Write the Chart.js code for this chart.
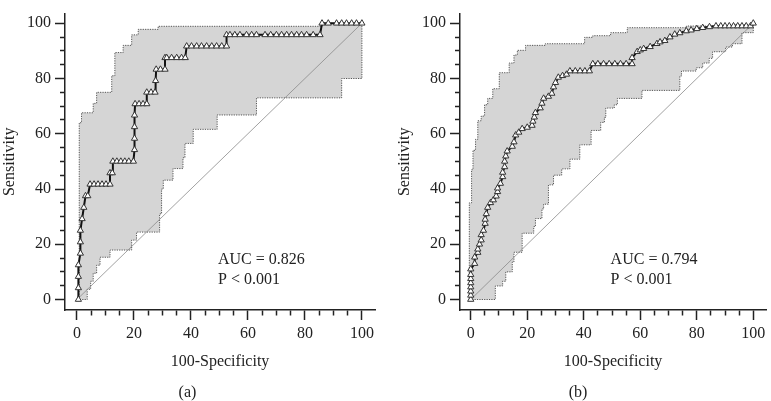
<!DOCTYPE html>
<html>
<head>
<meta charset="utf-8">
<script src="https://cdn.jsdelivr.net/npm/chart.js@4.4.0/dist/chart.umd.min.js"></script>
<style>
  html, body { margin: 0; padding: 0; background: #fff; }
  .panel { position: absolute; top: 0; height: 401px; }
</style>
</head>
<body>
<div class="panel" style="left:0;width:385px"><canvas id="rocA" width="385" height="401"></canvas></div>
<div class="panel" style="left:385px;width:386px"><canvas id="rocB" width="386" height="401"></canvas></div>
<script>
// ROC points [100-Specificity, Sensitivity]
const rocA = [[0.5,0],[0.5,4.2],[0.5,8.3],[0.5,12.5],[1.2,16.7],[1.2,20.8],[1.2,25],[1.8,29.2],[2.4,33.3],
  [3,37.5],[3.8,37.5],[4.6,41.7],[6,41.7],[7.4,41.7],[8.8,41.7],[10.2,41.7],[11.6,41.7],[11.6,45.8],[12.4,45.8],
  [12.6,50],[14,50],[15.4,50],[16.8,50],[18.2,50],[19.8,50],[20.2,54.2],[20.2,58.3],[20.2,62.5],[20.2,66.7],
  [20.4,70.8],[21.8,70.8],[23.2,70.8],[24.5,70.8],[24.5,75],[26,75],[27.4,75],[27.6,79.2],[27.8,83.3],[29.3,83.3],
  [30.9,83.3],[30.9,87.5],[31.5,87.5],[33.2,87.5],[35,87.5],[36.7,87.5],[38,87.5],[38.5,91.7],[40.2,91.7],
  [42,91.7],[43.7,91.7],[45.5,91.7],[47.3,91.7],[49,91.7],[50.8,91.7],[52.5,91.7],[52.5,95.8],[53.7,95.8],
  [55.4,95.8],[57.2,95.8],[59.5,95.8],[61.3,95.8],[63,95.8],[66,95.8],[68,95.8],[70,95.8],[71.8,95.8],
  [73.6,95.8],[75.3,95.8],[77.1,95.8],[78.8,95.8],[80.6,95.8],[82.9,95.8],[85.3,95.8],[86,100],[88.2,100],
  [91.1,100],[92.9,100],[94.6,100],[96.4,100],[98.1,100],[100,100]];
const upperA = [[0.8,0],[0.8,64],[1.6,64],[1.6,67.6],[5.7,67.6],[5.7,71],[6.9,71],[6.9,75],[12.2,75],[12.2,81],
  [13.3,81],[13.3,89.4],[16.2,89.4],[16.2,92],[19.2,92],[19.2,95.8],[21.5,95.8],[21.5,97.8],[28.5,97.8],
  [28.5,98.9],[86,98.9],[86,100],[100,100]];
const lowerA = [[0.8,0],[3.6,0],[3.6,3.7],[4.8,3.7],[4.8,6.6],[5.7,6.6],[5.7,9.5],[6.9,9.5],[6.9,12.4],
  [8.1,12.4],[8.1,15.3],[11.6,15.3],[11.6,17.9],[19.2,17.9],[19.2,21.5],[20.9,21.5],[20.9,24.4],[29,24.4],
  [29,31],[29.7,31],[29.7,40],[30.3,40],[30.3,43.2],[33.7,43.2],[33.7,47.4],[37.2,47.4],[37.2,51.3],
  [37.9,51.3],[37.9,56.5],[40.8,56.5],[40.8,61.6],[49.2,61.6],[49.2,66.8],[63,66.8],[63,73],[92.9,73],
  [92.9,80],[100,80],[100,100]];

const rocB = [[0,0],[0,1.5],[0,3],[0,4.5],[0,6],[0,7.5],[0,9],[0,11],[1.4,13],[1.4,15.3],[2.5,17],[2.5,18.2],
  [3.1,20],[3.7,21.5],[3.7,23.4],[4.5,25],[5.1,27.5],[5.1,29],[5.5,31],[6,33.3],[7,35],[8,36],[9,37.4],
  [9.5,39],[9.5,40.3],[10.5,42],[11.3,44.4],[11.3,46],[12,48],[12,50],[12.4,51.9],[12.9,53.7],[14.7,55.4],
  [15.3,57],[15.9,59.5],[17,60.5],[18.2,61.8],[20,62.3],[21.7,63],[22,64.5],[22.5,66],[22.9,67.6],
  [24.6,69.3],[25.2,71],[25.8,72.8],[27.5,73.5],[28.7,74.6],[29.3,76.9],[30,78.5],[31,80.4],[32.5,81],
  [33.9,81.5],[35.1,82.7],[37,82.7],[38.7,82.7],[40.4,82.7],[42,82.7],[43.2,85.3],[45,85.3],[47,85.3],
  [49,85.3],[51,85.3],[53,85.3],[55,85.3],[57.1,85.3],[57.1,87.5],[58.9,89.7],[60,90.3],[61.2,90.8],
  [63.5,91.5],[65.9,92.6],[67,93.2],[68.7,93.7],[70.5,95],[72.2,96],[74,96.5],[76.3,97.2],[78,97.5],
  [80,98],[82.1,98.4],[84.5,98.7],[86.8,99],[88.5,99],[90,99],[91.5,99],[93,99],[94.5,99],[96,99],
  [97.5,99],[99,99],[100,100]];
const upperB = [[-0.5,0],[-0.5,35],[0.3,35],[0.3,47],[0.8,47],[0.8,54],[1.7,54],[1.7,58],[2.5,58],
  [2.5,64.7],[3.7,64.7],[3.7,66.4],[4.9,66.4],[4.9,70.5],[6,70.5],[6,72.8],[7.8,72.8],[7.8,76.3],
  [10.1,76.3],[10.1,82.1],[13.6,82.1],[13.6,85.6],[15.3,85.6],[15.3,88.5],[16.5,88.5],[16.5,90.2],
  [19.4,90.2],[19.4,92],[26.4,92],[26.4,92.6],[40.3,92.6],[40.3,94.9],[43.2,94.9],[43.2,95.5],[49.5,95.5],
  [49.5,96.6],[55.4,96.6],[55.4,98.4],[76.3,98.4],[76.3,99],[92.6,99],[92.6,99.5],[100,99.5]];
const lowerB = [[-0.5,0],[8.7,0],[8.7,4.9],[11.3,4.9],[11.3,6.6],[12.4,6.6],[12.4,10],[14.7,10],[14.7,13.6],
  [15.3,13.6],[15.3,17.1],[18.2,17.1],[18.2,24],[22.3,24],[22.3,26.4],[22.9,26.4],[22.9,29.3],[25.2,29.3],
  [25.2,32.8],[25.8,32.8],[25.8,34.5],[27.5,34.5],[27.5,41.5],[29.3,41.5],[29.3,45],[32.2,45],[32.2,47.3],
  [35.1,47.3],[35.1,50.8],[38.6,50.8],[38.6,56],[42.6,56],[42.6,61.2],[46,61.2],[46,64.1],[47.3,64.1],
  [47.3,65.9],[47.8,65.9],[47.8,69.3],[50.8,69.3],[50.8,70.5],[51.9,70.5],[51.9,72.8],[60.6,72.8],
  [60.6,75.7],[74,75.7],[74,80.9],[74.6,80.9],[74.6,82.7],[76.9,82.7],[79.8,82.7],[79.8,83.9],[82.1,83.9],
  [82.1,85.6],[84.4,85.6],[84.4,87.3],[85.6,87.3],[85.6,89.7],[90.2,89.7],[90.2,91.4],[92.6,91.4],
  [92.6,92.6],[96,92.6],[96,96.6],[100,96.6],[100,99.5]];

const diagonal = [[0,0],[100,100]];
const tickLabelsAt = [0, 20, 40, 60, 80, 100];

const FONT = '"Liberation Serif", "Times New Roman", serif';
const INK = '#222';

const pts = arr => arr.map(p => ({x: p[0], y: p[1]}));

const statText = {
  id: 'statText',
  afterDatasetsDraw(chart, args, opts) {
    const {ctx, scales: {x, y}} = chart;
    ctx.save();
    ctx.font = '16px ' + FONT;
    ctx.fillStyle = INK;
    ctx.textBaseline = 'middle';
    ctx.textAlign = 'left';
    opts.lines.forEach((t, i) => ctx.fillText(t, x.getPixelForValue(opts.x), y.getPixelForValue(opts.y[i])));
    ctx.restore();
  }
};

function axis(min, max, side) {
  return {
    type: 'linear', min: min, max: max,
    border: {display: true, color: INK, width: 1.5},
    grid: {
      drawOnChartArea: false, drawTicks: true, tickLength: 10, tickColor: INK, tickWidth: 1.5,
      tickBorderDash: c => (c.tick && tickLabelsAt.includes(c.tick.value)) ? [] :
        (side === 'left' ? [0, 5, 5, 20] : [5, 20])
    },
    ticks: {
      stepSize: 5, includeBounds: false, autoSkip: false, maxRotation: 0, padding: 4,
      color: INK, font: {family: FONT, size: 16},
      callback: v => tickLabelsAt.includes(v) ? String(v) : ''
    }
  };
}

function makeChart(id, roc, upper, lower, cfg) {
  const band = pts(upper).concat(pts(lower).reverse());
  const xs = axis(cfg.xmin, cfg.xmax, 'bottom');
  xs.title = {display: true, text: '100-Specificity', color: INK, font: {family: FONT, size: 16}, padding: {top: 0, bottom: 11}};
  xs.afterFit = s => { s.height = 72; };
  const ys = axis(-3.8, 103.5, 'left');
  ys.title = {display: true, text: 'Sensitivity', color: INK, font: {family: FONT, size: 16}, padding: {top: cfg.ytitlePad, bottom: 0}};
  ys.afterFit = s => { s.width = cfg.yWidth; };

  return new Chart(document.getElementById(id), {
    type: 'scatter',
    data: {
      datasets: [
        {data: pts(roc), showLine: true, borderColor: '#111', borderWidth: 2, pointStyle: 'triangle',
         pointRadius: 3.6, pointBackgroundColor: '#fff', pointBorderColor: '#333', pointBorderWidth: 1, order: 1},
        {data: pts(diagonal), showLine: true, borderColor: '#8a8a8a', borderWidth: 0.8, pointRadius: 0, order: 2},
        {data: band, showLine: true, borderColor: '#555', borderWidth: 1, borderDash: [1.2, 1.2],
         backgroundColor: '#d5d5d5', fill: 'shape', pointRadius: 0, order: 3}
      ]
    },
    options: {
      responsive: false, devicePixelRatio: 1, animation: false,
      layout: {padding: {top: 2, right: cfg.padRight, bottom: 0, left: 0}},
      scales: {x: xs, y: ys},
      plugins: {
        legend: {display: false}, tooltip: {enabled: false},
        title: {display: true, text: cfg.caption, position: 'bottom', color: INK,
                font: {family: FONT, size: 16, weight: 'normal', lineHeight: 1}, padding: {top: 3, bottom: 0}},
        statText: {lines: cfg.stats, x: 49.5, y: [14.3, 7.3]}
      }
    },
    plugins: [statText]
  });
}

makeChart('rocA', rocA, upperA, lowerA,
  {xmin: -4.2, xmax: 104.6, yWidth: 65, ytitlePad: 0, padRight: 10, caption: '(a)', stats: ['AUC = 0.826', 'P < 0.001']});
makeChart('rocB', rocB, upperB, lowerB,
  {xmin: -3.8, xmax: 104.5, yWidth: 75, ytitlePad: 10, padRight: 0, caption: '(b)', stats: ['AUC = 0.794', 'P < 0.001']});
</script>
</body>
</html>
